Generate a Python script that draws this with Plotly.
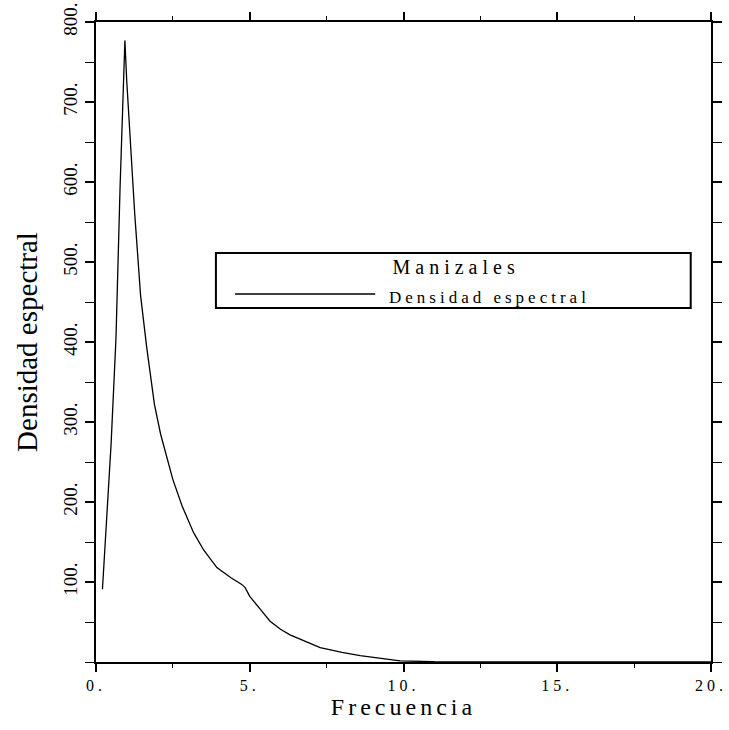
import plotly.graph_objects as go

# Data
freq = [0.21, 0.49, 0.65, 0.78, 0.94, 1.0, 1.26, 1.45, 1.65, 1.9, 2.1, 2.5,
        2.8, 3.17, 3.5, 3.93, 4.4, 4.74, 4.85, 5.0, 5.34, 5.66, 6.0, 6.31,
        7.29, 8.0, 8.59, 9.2, 9.89, 11.0, 14.0, 20.0]
dens = [91, 272, 405, 590, 777, 726, 560, 458, 393, 322, 285, 228,
        195, 162, 140, 118, 105, 97, 93, 82, 66, 51, 41, 34,
        18, 12, 8, 5, 1.5, 0.3, 0, 0]

x_tickvals = [0, 5, 10, 15, 20]
x_ticktext = ["0.", "5.", "10.", "15.", "20."]
y_tickvals = [100, 200, 300, 400, 500, 600, 700, 800]
y_ticktext = ["100.", "200.", "300.", "400.", "500.", "600.", "700.", "800."]

legend_title = "Manizales"
series_name = "Densidad espectral"
x_title = "Frecuencia"
y_title = "Densidad espectral"

FONT = "Liberation Serif, Times New Roman, serif"

fig = go.Figure()
fig.add_trace(go.Scatter(x=freq, y=dens, mode="lines", name=series_name,
                         line=dict(color="black", width=1.3), showlegend=False))

fig.update_xaxes(
    range=[0, 20], tickvals=x_tickvals, ticktext=x_ticktext, automargin=False,
    ticklabeloverflow="allow",
    showgrid=False, zeroline=False, showline=True, linecolor="black", linewidth=2,
    mirror="ticks", ticks="outside", ticklen=8, tickwidth=1.5, tickcolor="black",
    minor=dict(dtick=2.5, ticks="outside", ticklen=4, tickcolor="black", tickwidth=1.2),
    tickfont=dict(family=FONT, size=16, color="black"),
    title=dict(text=x_title, font=dict(family=FONT, size=24, color="black"), standoff=4),
)
fig.update_yaxes(
    range=[0, 800], tickvals=y_tickvals, ticktext=y_ticktext, tickangle=-90,
    automargin=False, ticklabeloverflow="allow",
    showgrid=False, zeroline=False, showline=True, linecolor="black", linewidth=2,
    mirror="ticks", ticks="outside", ticklen=9, tickwidth=1.5, tickcolor="black",
    minor=dict(dtick=50, ticks="outside", ticklen=9, tickcolor="black", tickwidth=1.2),
    tickfont=dict(family=FONT, size=19, color="black"),
    title=dict(text=y_title, font=dict(family=FONT, size=29, color="black"), standoff=14),
)

# Legend box drawn as shapes/annotations (paper coordinates)
fig.add_shape(type="rect", xref="paper", yref="paper", x0=0.195, x1=0.967,
              y0=0.553, y1=0.639, line=dict(color="black", width=2), fillcolor="white")
fig.add_shape(type="line", xref="paper", yref="paper", x0=0.226, x1=0.454,
              y0=0.575, y1=0.575, line=dict(color="black", width=1.3))
fig.add_annotation(xref="paper", yref="paper", x=0.585, y=0.617, text=legend_title,
                   showarrow=False, xanchor="center", yanchor="middle",
                   font=dict(family=FONT, size=20, color="black"))
fig.add_annotation(xref="paper", yref="paper", x=0.64, y=0.570, text=series_name,
                   showarrow=False, xanchor="center", yanchor="middle",
                   font=dict(family=FONT, size=17, color="black"))

fig.update_layout(
    width=729, height=730,
    margin=dict(l=96, r=18, t=22, b=68),
    paper_bgcolor="white", plot_bgcolor="white",
    showlegend=False,
)

post_script = """
var gd = document.getElementById('{plot_id}');
function sp(){
  gd.querySelectorAll('.xtick text').forEach(function(t){t.style.letterSpacing='4px';});
  gd.querySelectorAll('.xtitle').forEach(function(t){t.style.letterSpacing='4px';});
  gd.querySelectorAll('.annotation-text').forEach(function(t){
    t.style.letterSpacing = (t.textContent === 'Manizales') ? '5px' : '4px';
  });
}
sp();
if (gd.on) { gd.on('plotly_afterplot', sp); }
"""

fig.write_html("out.html", post_script=post_script)
